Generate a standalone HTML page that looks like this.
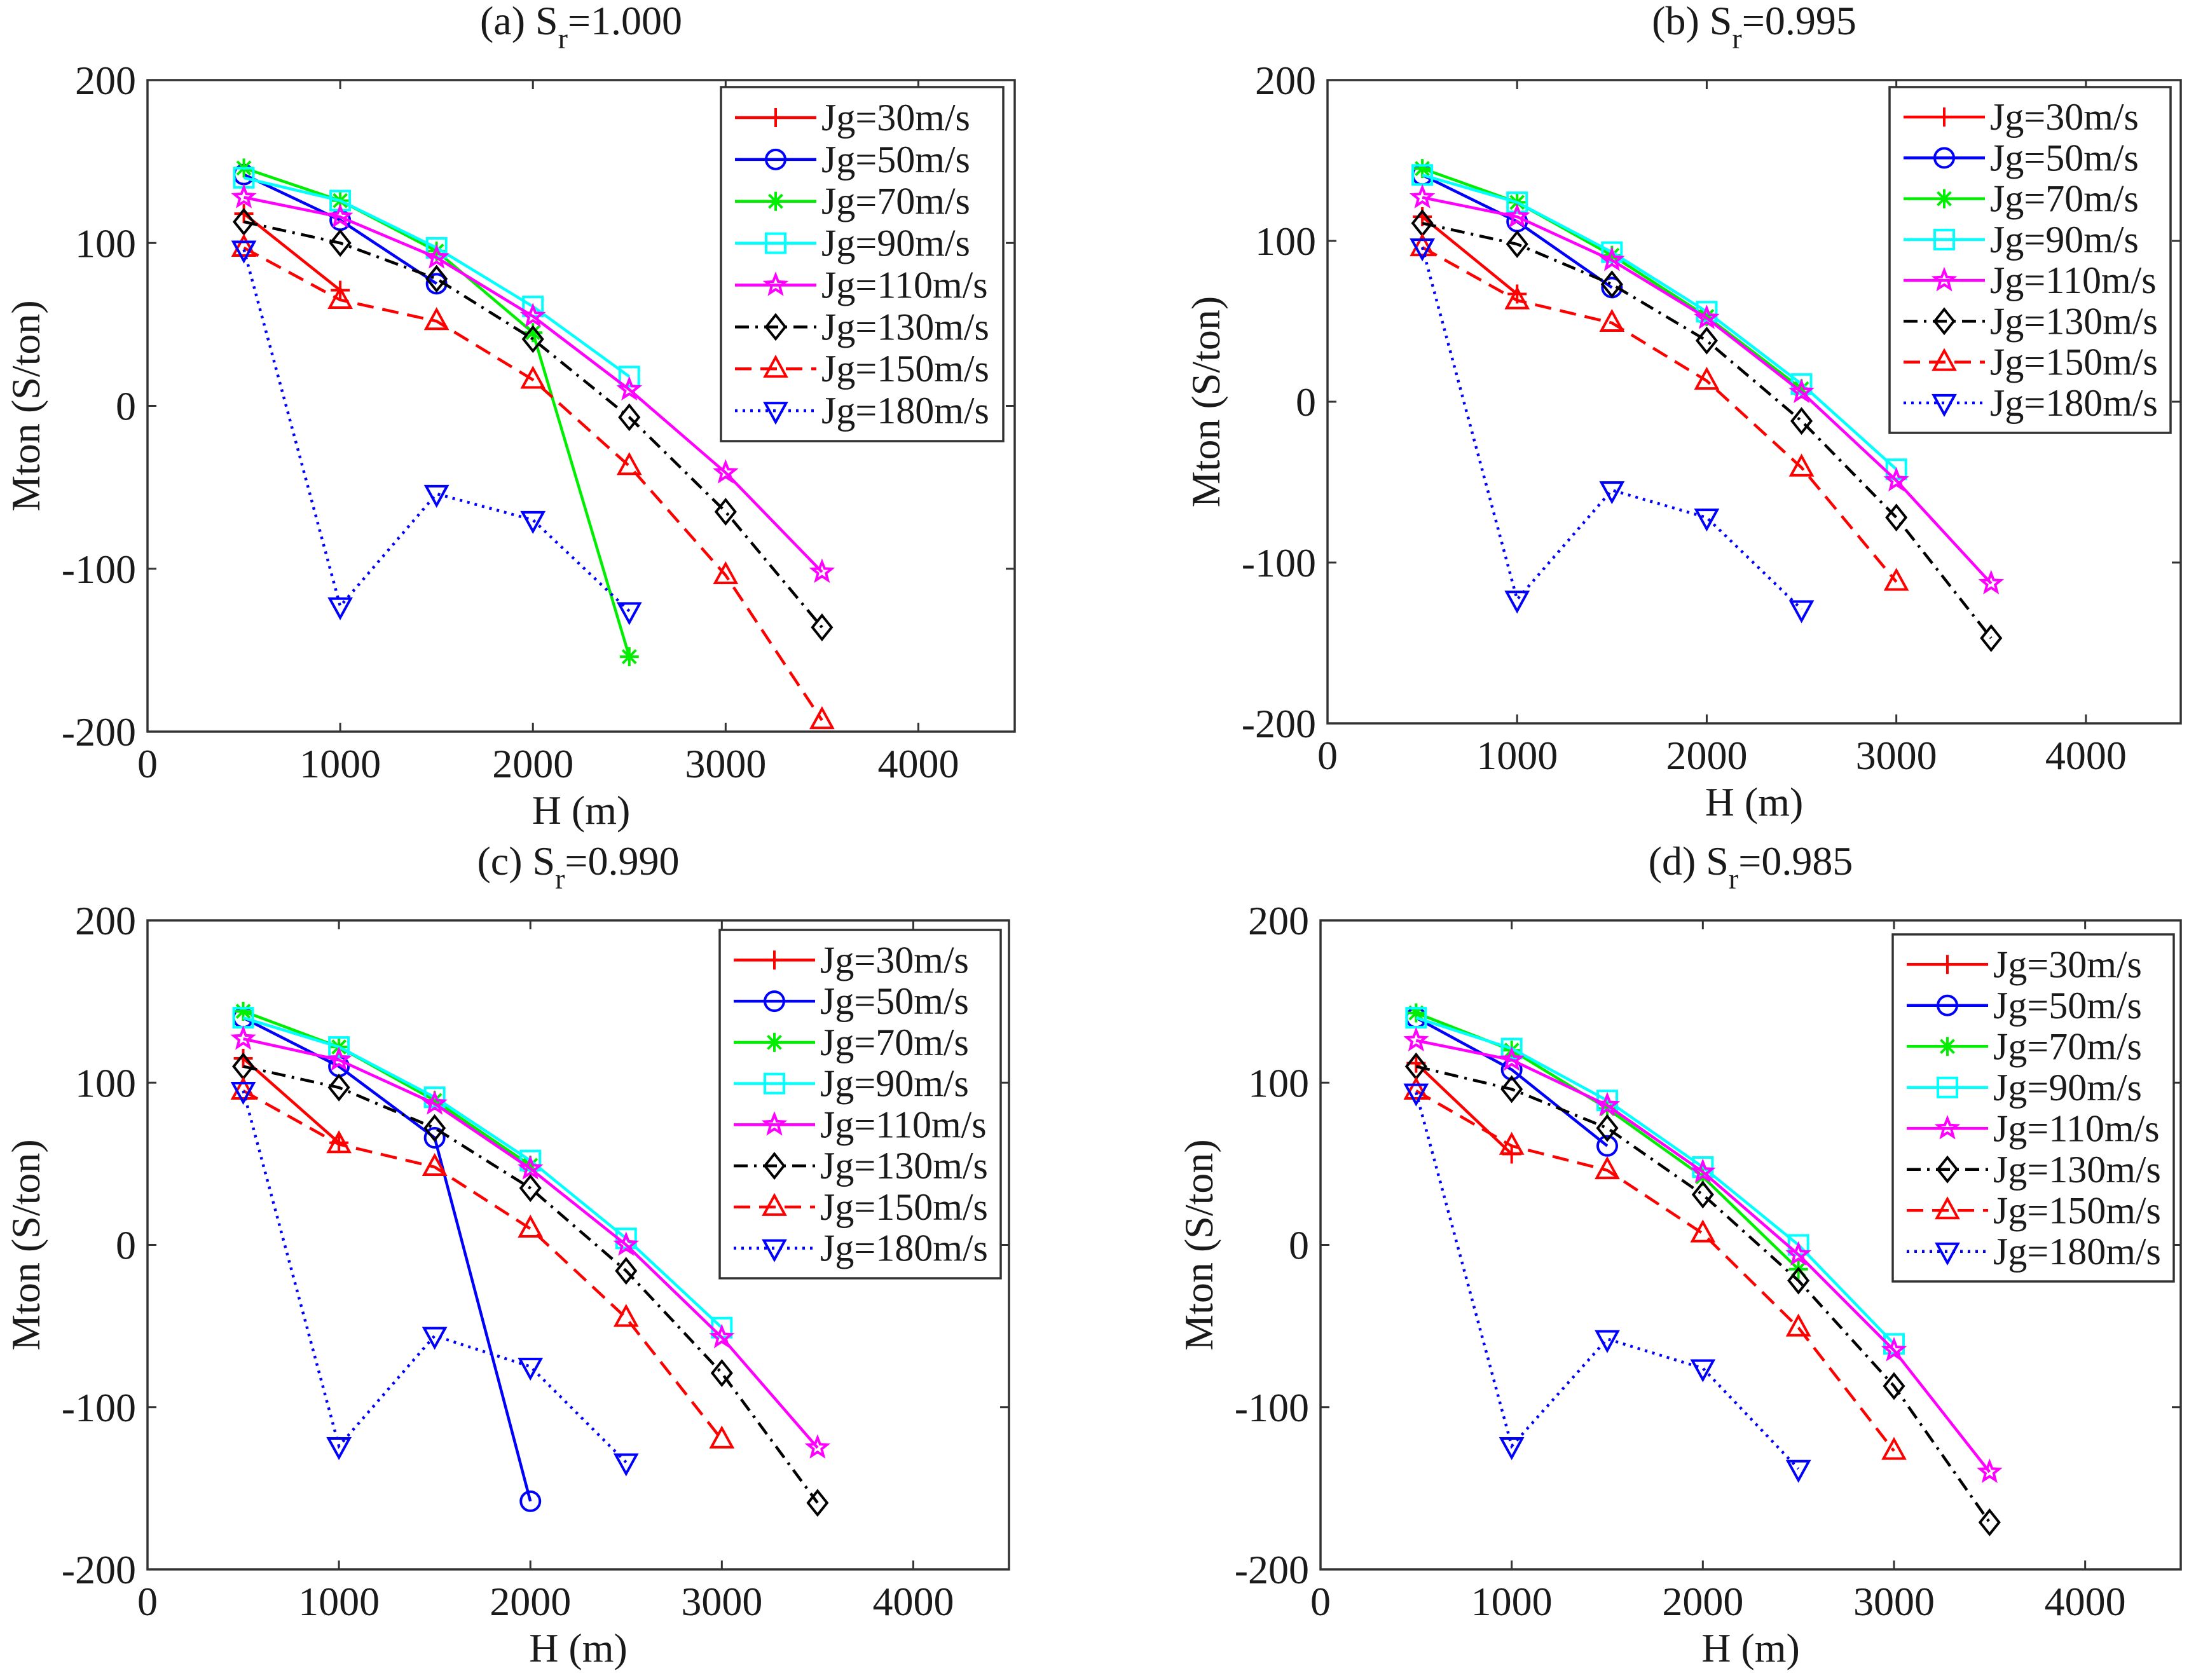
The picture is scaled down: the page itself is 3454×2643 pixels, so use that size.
<!DOCTYPE html>
<html><head><meta charset="utf-8"><style>
html,body{margin:0;padding:0;background:#fff}
svg{display:block}
text{font-family:"Liberation Serif","Times New Roman",serif;fill:#1a1a1a}
</style></head><body>
<svg id="fig" width="3454" height="2643" viewBox="0 0 3454 2643" xmlns="http://www.w3.org/2000/svg"></svg>
<script>
const H=[500,1000,1500,2000,2500,3000,3500];
const seriesNames=["Jg=30m/s","Jg=50m/s","Jg=70m/s","Jg=90m/s","Jg=110m/s","Jg=130m/s","Jg=150m/s","Jg=180m/s"];
const xTicks=[0,1000,2000,3000,4000];
const yTicks=[-200,-100,0,100,200];
const panelTitles=["(a) S","(b) S","(c) S","(d) S"];
const panelSr=["=1.000","=0.995","=0.990","=0.985"];
// panel a
const a30=[118,71],a50=[142,114,75],a70=[146,126,95,45,-154],a90=[140,126,97,61,18],a110=[128,116,91,55,10,-41,-102],a130=[113,100,78,41,-7,-65,-136],a150=[97,65,52,16,-37,-104,-193],a180=[96,-123,-54,-70,-126];
// panel b
const b30=[115,67],b50=[141,112,71],b70=[145,124,91,53,8],b90=[141,124,93,56,11,-42],b110=[127,115,88,52,6,-49,-113],b130=[111,98,73,38,-12,-72,-147],b150=[96,63,49,13,-41,-112],b180=[96,-123,-55,-72,-129];
// panel c
const c30=[115,63],c50=[140,110,66,-158],c70=[144,122,89,49],c90=[140,122,91,52,4,-51],c110=[127,114,87,47,0,-57,-125],c130=[110,97,72,35,-16,-79,-159],c150=[95,62,48,10,-45,-120],c180=[95,-124,-56,-75,-134];
// panel d
const d30=[112,56],d50=[140,108,61],d70=[143,120,84,42,-15],d90=[140,121,89,48,0,-61],d110=[126,114,86,45,-6,-65,-140],d130=[110,96,72,31,-22,-87,-171],d150=[95,61,46,7,-51,-127],d180=[94,-124,-58,-76,-138];
const panelData=[[a30,a50,a70,a90,a110,a130,a150,a180],[b30,b50,b70,b90,b110,b130,b150,b180],[c30,c50,c70,c90,c110,c130,c150,c180],[d30,d50,d70,d90,d110,d130,d150,d180]];

const styles=[
 {c:"#ff0000",m:"plus",d:""},{c:"#0000ff",m:"circle",d:""},{c:"#00ee00",m:"star6",d:""},{c:"#00ffff",m:"square",d:""},
 {c:"#ff00ff",m:"pent",d:""},{c:"#000000",m:"diamond",d:"22,10,4,10"},{c:"#ff0000",m:"tri",d:"26,14"},{c:"#0000ff",m:"vtri",d:"4,8"}];
const boxes=[{L:232,R:1596,T:126,B:1151,lg:[1134,137,1578,694]},{L:2088,R:3430,T:126,B:1138,lg:[2972,137,3414,681]},
 {L:232,R:1587,T:1448,B:2469,lg:[1132,1463,1574,2011]},{L:2077,R:3430,T:1448,B:2469,lg:[2977,1470,3419,2016]}];
const NS="http://www.w3.org/2000/svg";
const svg=document.getElementById('fig');
function mk(tag,attrs,parent){const e=document.createElementNS(NS,tag);for(const k in attrs)e.setAttribute(k,attrs[k]);(parent||svg).appendChild(e);return e;}
function marker(g,type,x,y,c){
 const r=15;const sw=4;let e;
 if(type==="plus"){e=mk('path',{d:`M${x-r} ${y}H${x+r}M${x} ${y-r}V${y+r}`,stroke:c,'stroke-width':sw,fill:'none'},g);}
 else if(type==="circle"){e=mk('circle',{cx:x,cy:y,r:r,stroke:c,'stroke-width':sw,fill:'none'},g);}
 else if(type==="star6"){e=mk('path',{d:`M${x-r} ${y}H${x+r}M${x} ${y-r}V${y+r}M${x-r*.7} ${y-r*.7}L${x+r*.7} ${y+r*.7}M${x-r*.7} ${y+r*.7}L${x+r*.7} ${y-r*.7}`,stroke:c,'stroke-width':sw,fill:'none'},g);}
 else if(type==="square"){e=mk('rect',{x:x-r,y:y-r,width:2*r,height:2*r,stroke:c,'stroke-width':sw,fill:'none'},g);}
 else if(type==="pent"){let p=[];for(let i=0;i<10;i++){const a=-Math.PI/2+i*Math.PI/5;const rr=i%2?r*0.45:r*1.05;p.push((x+rr*Math.cos(a)).toFixed(1)+","+(y+rr*Math.sin(a)).toFixed(1));}
  e=mk('polygon',{points:p.join(' '),stroke:c,'stroke-width':sw,fill:'none'},g);}
 else if(type==="diamond"){e=mk('polygon',{points:`${x},${y-r*1.25} ${x+r},${y} ${x},${y+r*1.25} ${x-r},${y}`,stroke:c,'stroke-width':sw,fill:'none'},g);}
 else if(type==="tri"){e=mk('polygon',{points:`${x},${y-r*1.2} ${x+r*1.1},${y+r*.8} ${x-r*1.1},${y+r*.8}`,stroke:c,'stroke-width':sw,fill:'none'},g);}
 else {e=mk('polygon',{points:`${x},${y+r*1.2} ${x+r*1.1},${y-r*.8} ${x-r*1.1},${y-r*.8}`,stroke:c,'stroke-width':sw,fill:'none'},g);}
 
 
}
boxes.forEach((b,pi)=>{
 const g=mk('g',{});
 
 
 const sx=v=>b.L+(v-0)/4500*(b.R-b.L);
 const sy=v=>b.T+(200-v)/400*(b.B-b.T);
 const frame=mk('rect',{x:b.L,y:b.T,width:b.R-b.L,height:b.B-b.T,fill:'#fff',stroke:'#333','stroke-width':3.5},g);
 
 
 xTicks.forEach(t=>{const x=sx(t);
  mk('path',{d:`M${x} ${b.B}v-14M${x} ${b.T}v14`,stroke:'#333','stroke-width':3},g);
  const tx=mk('text',{x:x,y:b.B+72,'font-size':64,'text-anchor':'middle'},g);tx.textContent=t;
  
  });
 yTicks.forEach(t=>{const y=sy(t);
  mk('path',{d:`M${b.L} ${y}h14M${b.R} ${y}h-14`,stroke:'#333','stroke-width':3},g);
  const tx=mk('text',{x:b.L-18,y:y+22,'font-size':64,'text-anchor':'end'},g);tx.textContent=t;
  
  });
 const xl=mk('text',{x:(b.L+b.R)/2,y:b.B+145,'font-size':64,'text-anchor':'middle'},g);xl.textContent="H (m)";
 
 
 const yc=(b.T+b.B)/2, yx=b.L-170;
 const yl=mk('text',{x:yx,y:yc,'font-size':64,'text-anchor':'middle',transform:`rotate(-90 ${yx} ${yc})`},g);yl.textContent="Mton (S/ton)";
 
 
 const tt=mk('text',{x:(b.L+b.R)/2,y:b.T-72,'font-size':64,'text-anchor':'middle'},g);
 
 
 tt.appendChild(document.createTextNode(panelTitles[pi]));
 const sub=mk('tspan',{dy:22,'font-size':46},tt);sub.textContent="r";
 const rest=mk('tspan',{dy:-22},tt);rest.textContent=panelSr[pi];
 panelData[pi].forEach((vals,si)=>{
  const s=styles[si];
  const pts=vals.map((v,i)=>sx(H[i]).toFixed(1)+","+sy(v).toFixed(1)).join(' ');
  const pl=mk('polyline',{points:pts,fill:'none',stroke:s.c,'stroke-width':4.5,'stroke-dasharray':s.d||'none'},g);
  
  
  vals.forEach((v,i)=>marker(g,s.m,sx(H[i]),sy(v),s.c));
 });
 const [lx1,ly1,lx2,ly2]=b.lg;
 const lg=mk('g',{},g);
 
 
 mk('rect',{x:lx1,y:ly1,width:lx2-lx1,height:ly2-ly1,fill:'#fff',stroke:'#333','stroke-width':3.5},lg);
 const rowH=(ly2-ly1-30)/8;
 seriesNames.forEach((n,si)=>{
  const s=styles[si];const y=ly1+15+rowH*(si+0.5);
  const e=mk('g',{},lg);
  
  
  mk('line',{x1:lx1+22,x2:lx1+150,y1:y,y2:y,stroke:s.c,'stroke-width':4.5,'stroke-dasharray':s.d||'none'},e);
  marker(e,s.m,lx1+86,y,s.c);
  const t=mk('text',{x:lx1+158,y:y+20,'font-size':60},e);t.textContent=n;
 });
});
</script>
</body></html>
